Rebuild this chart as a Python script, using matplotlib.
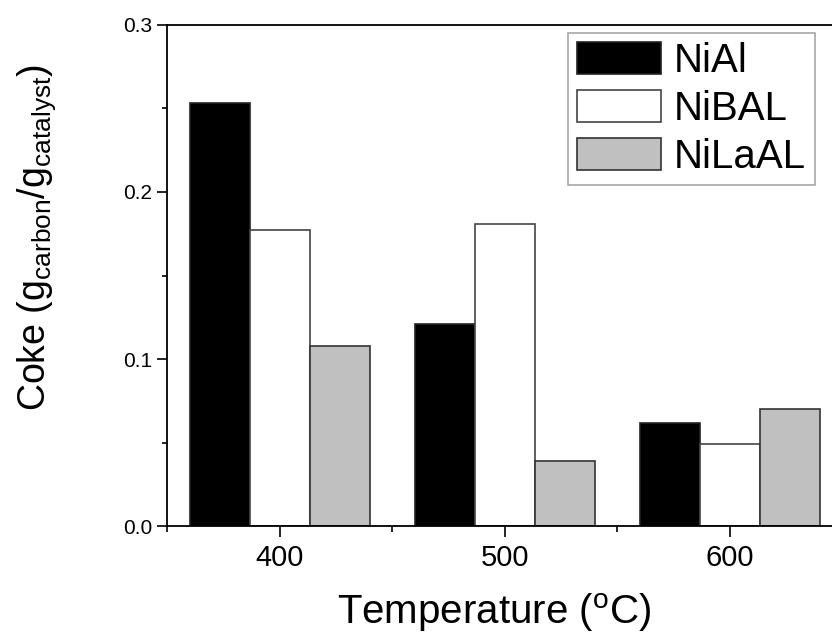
import numpy as np
import matplotlib
matplotlib.use("Agg")
import matplotlib.pyplot as plt
from matplotlib.ticker import MultipleLocator

plt.rcParams['font.family'] = ['Liberation Sans', 'DejaVu Sans']
plt.rcParams['mathtext.fontset'] = 'custom'
plt.rcParams['mathtext.rm'] = 'Liberation Sans'
plt.rcParams['mathtext.it'] = 'Liberation Sans'

temperatures = [400, 500, 600]
samples = ['NiAl', 'NiBAL', 'NiLaAL']
nial = [0.253, 0.121, 0.062]
nibal = [0.177, 0.181, 0.049]
nilaal = [0.108, 0.039, 0.070]

colors = ['black', 'white', '#c0c0c0']
edges = ['#222222', '#444444', '#333333']

fig = plt.figure(figsize=(8.32, 6.4), dpi=100)
ax = fig.add_axes([0.2007, 0.178, 0.812, 0.783])

w = 80 / 3
x = np.array(temperatures)
for i, (vals, name) in enumerate(zip([nial, nibal, nilaal], samples)):
    ax.bar(x + (i - 1) * w, vals, width=w, color=colors[i],
           edgecolor=edges[i], linewidth=1.2, label=name)

ax.set_xlim(350, 650)
ax.set_ylim(0, 0.3)
ax.xaxis.set_major_locator(MultipleLocator(100))
ax.xaxis.set_minor_locator(MultipleLocator(50))
ax.yaxis.set_major_locator(MultipleLocator(0.1))
ax.yaxis.set_minor_locator(MultipleLocator(0.05))
ax.yaxis.set_major_formatter(plt.FormatStrFormatter('%.1f'))
ax.tick_params(axis='x', which='major', length=8, width=1.2, labelsize=21, pad=5)
ax.tick_params(axis='x', which='minor', length=4.3, width=1.2)
ax.tick_params(axis='y', which='major', length=7.2, width=1.2, labelsize=15, pad=3.5)
ax.tick_params(axis='y', which='minor', length=3.6, width=1.2)
for s in ax.spines.values():
    s.set_linewidth(1.3)

ax.set_xlabel('Temperature ($^{o}$C)', fontsize=29)
ax.set_ylabel('Coke (g$_{carbon}$/g$_{catalyst}$)', fontsize=27)
ax.xaxis.set_label_coords(0.484, -0.129)
ax.yaxis.set_label_coords(-0.162, 0.576)

leg = ax.legend(loc='upper left', bbox_to_anchor=(0.5936, 0.984), fontsize=29,
                frameon=True, fancybox=False, edgecolor='#888888',
                handlelength=2.1, handleheight=0.84, handletextpad=0.3,
                labelspacing=0.25, borderpad=0.22, borderaxespad=0)
leg.get_frame().set_linewidth(1.1)

fig.savefig('out.png', dpi=100)
